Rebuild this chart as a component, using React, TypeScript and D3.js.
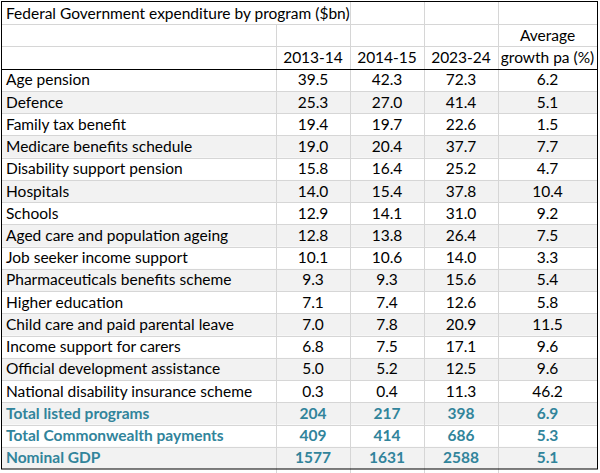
import React from "react";
import * as d3 from "d3";

const title = "Federal Government expenditure by program ($bn)";
const columnHeaders = ["2013-14", "2014-15", "2023-24"];
const growthHeader = ["Average", "growth pa (%)"];

const programs = [
  "Age pension",
  "Defence",
  "Family tax benefit",
  "Medicare benefits schedule",
  "Disability support pension",
  "Hospitals",
  "Schools",
  "Aged care and population ageing",
  "Job seeker income support",
  "Pharmaceuticals benefits scheme",
  "Higher education",
  "Child care and paid parental leave",
  "Income support for carers",
  "Official development assistance",
  "National disability insurance scheme",
];
const v2013 = ["39.5", "25.3", "19.4", "19.0", "15.8", "14.0", "12.9", "12.8", "10.1", "9.3", "7.1", "7.0", "6.8", "5.0", "0.3"];
const v2014 = ["42.3", "27.0", "19.7", "20.4", "16.4", "15.4", "14.1", "13.8", "10.6", "9.3", "7.4", "7.8", "7.5", "5.2", "0.4"];
const v2023 = ["72.3", "41.4", "22.6", "37.7", "25.2", "37.8", "31.0", "26.4", "14.0", "15.6", "12.6", "20.9", "17.1", "12.5", "11.3"];
const growth = ["6.2", "5.1", "1.5", "7.7", "4.7", "10.4", "9.2", "7.5", "3.3", "5.4", "5.8", "11.5", "9.6", "9.6", "46.2"];

const totals = ["Total listed programs", "Total Commonwealth payments", "Nominal GDP"];
const t2013 = ["204", "409", "1577"];
const t2014 = ["217", "414", "1631"];
const t2023 = ["398", "686", "2588"];
const tGrowth = ["6.9", "5.3", "5.1"];

const W = 600;
const H = 473;
const FONT = "Lato, 'Open Sans', sans-serif";
const FS = 15.5;
const colEdges = [2, 276, 350, 424, 498, 597];
const GRID = "#d6d6d6";
const SHADE = "#f2f2f2";
const TOTAL_COLOR = "#31849b";

type Row = { label: string; vals: string[]; total: boolean };

export default function App() {
  const rows: Row[] = [
    ...programs.map((p, i) => ({ label: p, vals: [v2013[i], v2014[i], v2023[i], growth[i]], total: false })),
    ...totals.map((p, i) => ({ label: p, vals: [t2013[i], t2014[i], t2023[i], tGrowth[i]], total: true })),
  ];
  const nRows = rows.length + 3;
  const y = d3.scaleBand<number>().domain(d3.range(nRows)).range([2, 469]).paddingInner(0).paddingOuter(0);
  const bw = y.bandwidth();
  const colCenter = (c: number) => (colEdges[c] + colEdges[c + 1]) / 2;
  const textY = (r: number) => (y(r) as number) + bw / 2 + 5.5;

  return (
    <svg width={W} height={H} style={{ position: "absolute", left: 0, top: 0, background: "#fff" }} fontFamily={FONT} fontSize={FS}>
      {colEdges.slice(1, 5).map((x, i) => (
        <line key={"bx" + i} x1={x + 0.5} x2={x + 0.5} y1={469} y2={H} stroke={GRID} />
      ))}
      {rows.map((r, i) =>
        i % 2 === 1 ? (
          <rect key={"s" + i} x={colEdges[0]} y={y(i + 3) as number} width={colEdges[5] - colEdges[0]} height={bw} fill={SHADE} />
        ) : null
      )}
      {d3.range(1, nRows).map((r) => (
        <line key={"h" + r} x1={colEdges[0]} x2={colEdges[5]} y1={Math.round(y(r) as number) + 0.5} y2={Math.round(y(r) as number) + 0.5} stroke={GRID} />
      ))}
      {colEdges.slice(1, 5).map((x, i) => (
        <line key={"v" + i} x1={x + 0.5} x2={x + 0.5} y1={i === 0 ? (y(1) as number) : 2} y2={469} stroke={GRID} />
      ))}
      <line x1={colEdges[0]} x2={colEdges[5]} y1={Math.round(y(3) as number) + 0.5} y2={Math.round(y(3) as number) + 0.5} stroke="#000" />
      <rect x={1.5} y={1.5} width={colEdges[5] - 1} height={469 - 1.5} fill="none" stroke="#000" />
      <text x={6} y={textY(0)} fill="#000">{title}</text>
      <text x={colCenter(4)} y={textY(1)} textAnchor="middle" fill="#000">{growthHeader[0]}</text>
      {columnHeaders.map((h, i) => (
        <text key={"ch" + i} x={colCenter(i + 1)} y={textY(2)} textAnchor="middle" fill="#000">{h}</text>
      ))}
      <text x={colCenter(4)} y={textY(2)} textAnchor="middle" fill="#000">{growthHeader[1]}</text>
      {rows.map((r, i) => (
        <g key={"r" + i} fill={r.total ? TOTAL_COLOR : "#000"} fontWeight={r.total ? "bold" : "normal"}>
          <text x={6} y={textY(i + 3)}>{r.label}</text>
          {r.vals.map((v, j) => (
            <text key={j} x={colCenter(j + 1)} y={textY(i + 3)} textAnchor="middle">{v}</text>
          ))}
        </g>
      ))}
    </svg>
  );
}
